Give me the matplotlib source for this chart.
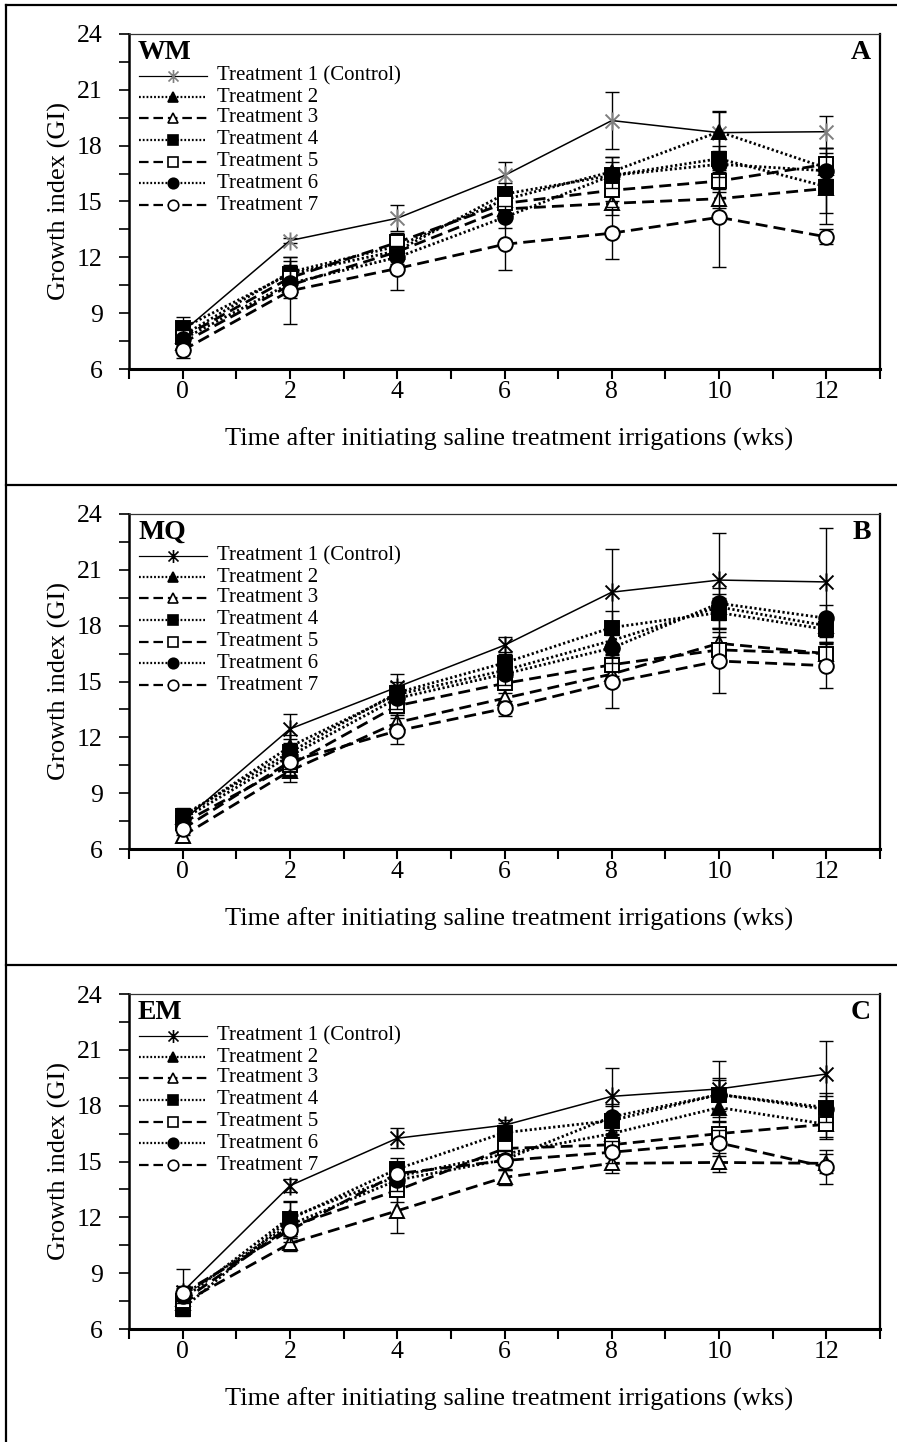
"""
Growth index of three ecotypes (WM, MQ, EM) under seven saline irrigation
treatments, three stacked panels with SE bars.
"""
import numpy as np
import matplotlib.pyplot as plt
from matplotlib.path import Path
from matplotlib.lines import Line2D

plt.rcParams["font.family"] = ["Liberation Serif", "DejaVu Serif"]

weeks = [0, 2, 4, 6, 8, 10, 12]
treatments = ["Treatment 1 (Control)", "Treatment 2", "Treatment 3", "Treatment 4",
              "Treatment 5", "Treatment 6", "Treatment 7"]
panel_names = ["WM", "MQ", "EM"]
panel_letters = ["A", "B", "C"]

# mean growth index, one row per treatment
wm_gi = [
    [8.0, 12.9, 14.1, 16.4, 19.35, 18.7, 18.75],
    [7.8, 11.2, 12.6, 15.1, 16.6, 18.75, 16.8],
    [7.4, 10.5, 12.3, 14.6, 14.9, 15.15, 15.7],
    [8.2, 11.1, 12.35, 15.4, 16.4, 17.3, 15.8],
    [7.7, 10.9, 12.8, 14.9, 15.6, 16.1, 17.0],
    [7.6, 10.6, 12.0, 14.15, 16.4, 17.0, 16.65],
    [7.0, 10.2, 11.4, 12.7, 13.3, 14.15, 13.1],
]
wm_se = [
    [0.4, 0.15, 0.7, 0.7, 1.55, 1.1, 0.85],
    [0.4, 0.6, 0.5, 0.5, 0.8, 1.1, 0.6],
    [0.3, 0.5, 0.4, 0.4, 0.6, 0.5, 1.9],
    [0.6, 0.9, 0.7, 0.6, 1.0, 0.7, 1.4],
    [0.4, 0.7, 0.5, 0.5, 0.6, 0.6, 0.9],
    [0.5, 0.8, 0.6, 0.6, 0.7, 0.7, 1.2],
    [0.4, 1.8, 1.15, 1.4, 1.4, 2.65, 0.4],
]
mq_gi = [
    [7.5, 12.45, 14.7, 16.95, 19.8, 20.45, 20.35],
    [7.7, 11.5, 14.3, 15.6, 17.2, 19.0, 18.0],
    [6.7, 10.2, 12.8, 14.1, 15.4, 17.05, 16.5],
    [7.8, 11.2, 14.4, 16.0, 17.9, 18.7, 17.8],
    [7.4, 10.5, 13.7, 14.9, 15.9, 16.7, 16.5],
    [7.6, 11.0, 14.1, 15.4, 16.8, 19.2, 18.4],
    [7.07, 10.7, 12.35, 13.55, 14.95, 16.1, 15.85],
]
mq_se = [
    [0.3, 0.8, 0.7, 0.45, 2.3, 2.55, 2.9],
    [0.3, 0.6, 0.5, 0.5, 0.8, 0.7, 0.6],
    [0.3, 0.6, 0.5, 0.5, 0.6, 0.6, 0.5],
    [0.4, 0.7, 0.6, 0.6, 0.9, 0.8, 0.7],
    [0.3, 0.6, 0.5, 0.5, 0.6, 0.7, 0.6],
    [0.4, 0.7, 0.6, 0.6, 0.8, 0.8, 0.7],
    [0.3, 0.7, 0.7, 0.4, 1.35, 1.7, 1.2],
]
em_gi = [
    [8.0, 13.7, 16.25, 16.95, 18.5, 18.9, 19.7],
    [7.6, 12.0, 14.2, 15.4, 16.5, 17.9, 17.0],
    [7.4, 10.6, 12.35, 14.15, 14.9, 14.95, 14.9],
    [7.1, 11.9, 14.6, 16.55, 17.2, 18.6, 17.9],
    [7.5, 11.5, 13.45, 15.7, 15.9, 16.5, 17.0],
    [7.8, 11.6, 14.0, 15.1, 17.4, 18.6, 17.8],
    [7.93, 11.3, 14.35, 15.05, 15.5, 16.0, 14.7],
]
em_se = [
    [1.2, 0.35, 0.55, 0.3, 1.5, 1.5, 1.8],
    [0.4, 0.9, 0.6, 0.5, 0.7, 0.8, 0.7],
    [0.3, 0.4, 1.2, 0.4, 0.5, 0.5, 0.5],
    [0.4, 0.9, 0.6, 0.5, 0.8, 0.9, 0.8],
    [0.4, 0.6, 0.6, 0.5, 0.6, 0.7, 0.8],
    [0.4, 0.7, 0.6, 0.5, 0.7, 0.8, 0.7],
    [0.4, 0.6, 0.6, 0.5, 0.6, 0.7, 0.9],
]

# Excel-like asterisk: an X with a vertical bar
ASTERISK = Path([(-1, -1), (1, 1), (-1, 1), (1, -1), (0, -1.3), (0, 1.3)],
                [Path.MOVETO, Path.LINETO] * 3)
DOT = (0, (0.8, 0.9))
DASH = (0, (4.3, 2.2))

styles = [
    dict(ls="-", lw=1.1, marker=ASTERISK, mfc="none", ms=13),
    dict(ls=DOT, lw=2.0, marker="^", mfc="black", ms=10),
    dict(ls=DASH, lw=2.0, marker="^", mfc="white", ms=10),
    dict(ls=DOT, lw=2.0, marker="s", mfc="black", ms=9.5),
    dict(ls=DASH, lw=2.0, marker="s", mfc="white", ms=9.5),
    dict(ls=DOT, lw=2.0, marker="o", mfc="black", ms=10.5),
    dict(ls=DASH, lw=2.0, marker="o", mfc="white", ms=10.5),
]

W, H = 897, 1442
fig = plt.figure(figsize=(W / 100, H / 100), dpi=100)


def px_axes(left, top, right, bottom):
    return fig.add_axes([left / W, 1 - bottom / H, (right - left) / W, (bottom - top) / H])


def draw_legend(ax, t1_color):
    x0, x1, xt = 139, 207, 217
    rows = [76, 97, 118, 140, 162, 183, 205]
    for k, (lab, st) in enumerate(zip(treatments, styles)):
        yy = 1 - (rows[k] - 34) / 335
        xa, xb, xc = [(p - 129) / 751 for p in (x0, x1, xt)]
        ax.plot([xa, xb], [yy, yy], transform=ax.transAxes, color="black",
                ls=st["ls"], lw=st["lw"] * 0.8, clip_on=False, zorder=5)
        mec = t1_color if k == 0 else "black"
        ax.plot([(xa + xb) / 2], [yy], transform=ax.transAxes, ls="none",
                marker=st["marker"], mfc=st["mfc"], mec=mec, mew=1.2,
                ms=st["ms"] * 0.72, clip_on=False, zorder=6)
        ax.text(xc, yy, lab, transform=ax.transAxes, fontsize=15, va="center", ha="left")


def draw_panel(ax, gi, se, name, letter, t1_color):
    for k in range(len(treatments)):
        st = styles[k]
        ax.errorbar(weeks, gi[k], yerr=se[k], fmt="none", ecolor="black",
                    elinewidth=1.0, capsize=5, capthick=1.0, zorder=2 + k)
        mec = t1_color if k == 0 else "black"
        ax.plot(weeks, gi[k], color="black", ls=st["ls"], lw=st["lw"],
                marker=st["marker"], mfc=st["mfc"], mec=mec, mew=1.4,
                ms=st["ms"], zorder=2.5 + k)

    ax.set_xlim(-1, 13)
    ax.set_ylim(6, 24)
    ax.set_xticks(range(0, 13, 2))
    ax.set_xticks(range(-1, 14, 2), minor=True)
    ax.set_yticks(range(6, 25, 3))
    ax.set_yticks(np.arange(7.5, 24, 3), minor=True)
    ax.tick_params(axis="x", which="both", direction="out", length=7, width=1.5,
                   pad=2, labelsize=18.5)
    ax.tick_params(axis="y", which="both", direction="out", length=7, width=1.2,
                   pad=12, labelsize=18.5)

    ax.spines["left"].set_linewidth(1.8)
    ax.spines["bottom"].set_linewidth(2.2)
    ax.spines["right"].set_linewidth(1.6)
    ax.spines["top"].set_linewidth(0.9)
    ax.spines["top"].set_color("#333333")

    ax.set_xlabel("Time after initiating saline treatment irrigations (wks)", fontsize=19)
    ax.xaxis.set_label_coords(0.506, -0.175)
    ax.text(-0.092, 0.5, "Growth index (GI)", transform=ax.transAxes, rotation=90,
            fontsize=19, ha="center", va="center")

    ax.text(0.012, 0.946, name, transform=ax.transAxes, fontsize=20,
            fontweight="bold", ha="left", va="center")
    ax.text(0.988, 0.946, letter, transform=ax.transAxes, fontsize=20,
            fontweight="bold", ha="right", va="center")
    draw_legend(ax, t1_color)


data = [(wm_gi, wm_se, "#7f7f7f"), (mq_gi, mq_se, "black"), (em_gi, em_se, "black")]
for i, (gi, se, c1) in enumerate(data):
    off = 480 * i
    ax = px_axes(129, 34 + off, 880, 369 + off)
    draw_panel(ax, gi, se, panel_names[i], panel_letters[i], c1)
    # outer panel frame
    fig.add_artist(Line2D([6 / W, 1], [1 - (5 + off) / H] * 2, color="black", lw=1.6))

fig.add_artist(Line2D([6 / W, 6 / W], [1 - 5 / H, 0], color="black", lw=1.6))

fig.savefig("out.png", dpi=100)
